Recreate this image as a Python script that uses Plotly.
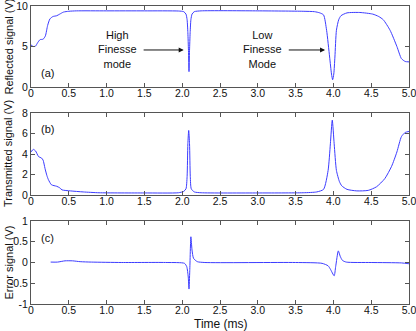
import plotly.graph_objects as go

# ---- data ----
t_refl = [0.00, 0.03, 0.06, 0.09, 0.12, 0.16, 0.19, 0.22, 0.25, 0.29, 0.34, 0.38, 0.43, 0.50, 0.60,
          1.00, 1.50, 1.95, 2.02, 2.05, 2.065, 2.075, 2.083, 2.09, 2.097, 2.105, 2.115, 2.13, 2.16,
          2.25, 3.00, 3.60, 3.75, 3.82, 3.87, 3.91, 3.95, 3.975, 3.99, 4.005, 4.02, 4.04, 4.07,
          4.10, 4.18, 4.35, 4.52, 4.60, 4.66, 4.75, 4.84, 4.90, 4.95, 5.00]
v_refl = [5.2, 5.0, 5.05, 5.5, 5.85, 5.9, 6.3, 7.6, 8.4, 8.7, 8.8, 9.0, 9.25, 9.35, 9.4,
          9.4, 9.4, 9.38, 9.3, 9.0, 8.3, 6.7, 4.5, 1.9, 4.5, 6.7, 8.3, 9.0, 9.3,
          9.4, 9.4, 9.35, 9.3, 9.15, 8.9, 7.0, 3.7, 1.6, 0.9, 1.6, 3.7, 7.0, 8.3,
          8.8, 9.15, 9.2, 9.0, 8.7, 8.3, 7.0, 5.0, 3.5, 3.15, 3.1]

t_trans = [0.00, 0.03, 0.06, 0.10, 0.14, 0.16, 0.185, 0.21, 0.23, 0.27, 0.34, 0.38, 0.41, 0.52, 0.69,
           0.90, 1.50, 1.95, 2.02, 2.05, 2.065, 2.075, 2.086, 2.097, 2.107, 2.12, 2.16, 2.25,
           3.00, 3.60, 3.78, 3.87, 3.93, 3.96, 3.985, 4.01, 4.04, 4.08, 4.11, 4.18, 4.31, 4.46,
           4.57, 4.68, 4.77, 4.84, 4.90, 4.95, 5.00]
v_trans = [4.2, 4.45, 4.3, 3.75, 3.6, 3.4, 2.6, 1.9, 1.5, 1.0, 0.85, 0.7, 0.5, 0.4, 0.3,
           0.22, 0.2, 0.22, 0.35, 0.6, 1.8, 5.0, 6.3, 5.0, 1.8, 0.6, 0.3, 0.22,
           0.2, 0.22, 0.3, 0.55, 2.4, 5.0, 7.3, 5.0, 2.4, 1.3, 0.9, 0.55, 0.4, 0.45,
           0.8, 1.6, 2.8, 4.2, 5.7, 6.1, 6.2]

t_err = [0.26, 0.35, 0.45, 0.55, 0.65, 0.80, 1.20, 1.80, 2.03, 2.06, 2.08, 2.09, 2.10, 2.115, 2.13,
         2.15, 2.20, 2.30, 3.50, 3.85, 3.93, 3.96, 4.01, 4.03, 4.065, 4.09, 4.12, 4.17, 4.50,
         4.90, 5.00]
v_err = [0.01, 0.01, 0.04, 0.04, 0.02, 0.01, 0.0, 0.0, -0.02, -0.1, -0.35, -0.64, -0.2, 0.62, 0.3,
         0.1, 0.02, 0.0, 0.0, -0.02, -0.08, -0.16, -0.32, -0.1, 0.28, 0.15, 0.05, 0.01, 0.0,
         -0.01, -0.03]

x_ticks = [0, 0.5, 1.0, 1.5, 2.0, 2.5, 3.0, 3.5, 4.0, 4.5, 5.0]
x_ticktext = ["0", "0.5", "1.0", "1.5", "2.0", "2.5", "3.0", "3.5", "4.0", "4.5", "5.0"]
ya_ticks = [0, 5, 10]
yb_ticks = [0, 2, 4, 6, 8]
yc_ticks = [-1, -0.5, 0, 0.5, 1]
yc_ticktext = ["-1", "-0.5", "0", "0.5", "1"]

W, H = 416, 331
LINE = "#3c3cff"
FONT = "Liberation Sans, Arial, sans-serif"

# plot-area margins (pixels); everything else placed relative to them
ML, MR, MT, MB = 31, 7, 6, 27
PW, PH = W - ML - MR, H - MT - MB

def py(pix):  # pixel row -> paper y
    return 1 - (pix - MT) / PH

def px(pix):  # pixel column -> paper x
    return (pix - ML) / PW

line_style = dict(color=LINE, width=1, shape="spline", smoothing=0.6)

fig = go.Figure()
fig.add_trace(go.Scatter(x=t_refl, y=v_refl, mode="lines", line=line_style,
                         xaxis="x", yaxis="y", showlegend=False, hoverinfo="skip"))
fig.add_trace(go.Scatter(x=t_trans, y=v_trans, mode="lines", line=line_style,
                         xaxis="x2", yaxis="y2", showlegend=False, hoverinfo="skip"))
fig.add_trace(go.Scatter(x=t_err, y=v_err, mode="lines", line=line_style,
                         xaxis="x3", yaxis="y3", showlegend=False, hoverinfo="skip"))

axcommon = dict(showline=True, linecolor="#555555", linewidth=1, mirror="ticks",
                ticks="inside", ticklen=4, tickcolor="#555555", showgrid=False, zeroline=False,
                automargin=False, ticklabeloverflow="allow",
                tickfont=dict(family=FONT, size=10.5, color="#111"))
xax = dict(domain=[0, 1], range=[0, 5], tickvals=x_ticks, ticktext=x_ticktext,
           ticklabelstandoff=-4, **axcommon)

fig.update_layout(
    template="none",
    width=W, height=H, margin=dict(l=ML, r=MR, t=MT, b=MB, pad=0, autoexpand=False),
    paper_bgcolor="white", plot_bgcolor="white",
    font=dict(family=FONT, color="#111"),
    xaxis=dict(anchor="y", **xax),
    yaxis=dict(domain=[py(87), py(6)], range=[0, 10], tickvals=ya_ticks, anchor="x", **axcommon),
    xaxis2=dict(anchor="y2", **xax),
    yaxis2=dict(domain=[py(195), py(113)], range=[0, 8], tickvals=yb_ticks, anchor="x2", **axcommon),
    xaxis3=dict(anchor="y3", **xax),
    yaxis3=dict(domain=[py(304), py(221)], range=[-1, 1], tickvals=yc_ticks, ticktext=yc_ticktext,
                anchor="x3", **axcommon),
)

def ytitle(text, top, bot):
    fig.add_annotation(text=text, xref="paper", yref="paper", x=px(8), y=py((top + bot) / 2),
                       textangle=-90, showarrow=False, font=dict(size=11, family=FONT, color="#111"),
                       xanchor="center", yanchor="middle")

ytitle("Reflected signal (V)", 6, 87)
ytitle("Transmitted signal (V)", 113, 195)
ytitle("Error signal (V)", 221, 304)

fig.add_annotation(text="Time (ms)", xref="paper", yref="paper", x=px(221), y=py(324),
                   showarrow=False, font=dict(size=12, family=FONT, color="#111"),
                   xanchor="center", yanchor="middle")

for lbl, xr, yr, yv in [("(a)", "x", "y", 1.7), ("(b)", "x2", "y2", 6.4), ("(c)", "x3", "y3", 0.6)]:
    fig.add_annotation(text=lbl, xref=xr, yref=yr, x=0.22, y=yv, showarrow=False,
                       font=dict(size=11, family=FONT, color="#111"))

# mode labels and arrows
fig.add_annotation(text="High<br>Finesse<br>mode", xref="x", yref="y", x=1.14, y=4.6,
                   showarrow=False, font=dict(size=11, family=FONT, color="#111"))
fig.add_annotation(text="Low<br>Finesse<br>Mode", xref="x", yref="y", x=3.06, y=4.6,
                   showarrow=False, font=dict(size=11, family=FONT, color="#111"))
fig.add_annotation(x=2.02, y=4.57, ax=1.47, ay=4.57, xref="x", yref="y", axref="x", ayref="y",
                   text="", showarrow=True, arrowhead=2, arrowsize=1, arrowwidth=1, arrowcolor="#111")
fig.add_annotation(x=3.89, y=4.57, ax=3.39, ay=4.57, xref="x", yref="y", axref="x", ayref="y",
                   text="", showarrow=True, arrowhead=2, arrowsize=1, arrowwidth=1, arrowcolor="#111")

fig.write_html("out.html", config={"displayModeBar": False},
               post_script="document.body.style.margin='0';")
